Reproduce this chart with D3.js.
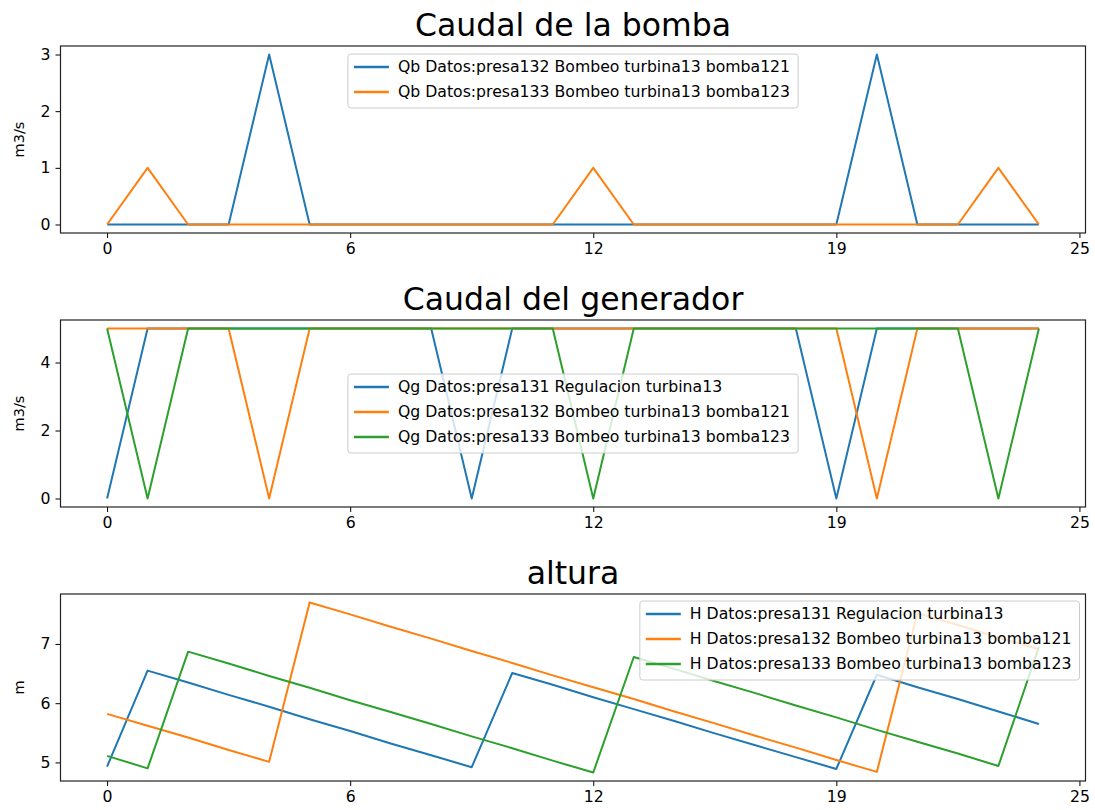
<!DOCTYPE html>
<html lang="en">

<head>
    <meta charset="utf-8">
    <title>Caudal y altura</title>
    <script src="https://d3js.org/d3.v7.min.js"></script>
    <style>
        body { margin: 0; background: #fff; }
        text { font-family: "DejaVu Sans", sans-serif; fill: #000; }
    </style>
</head>

<body>
    <script>
        // hour index of every sample
        const hours = [0, 1, 2, 3, 4, 5, 6, 7, 8, 9, 10, 11, 12, 13, 14, 15, 16, 17, 18, 19, 20, 21, 22, 23];
        // where the x ticks sit and what they say
        const xTickValues = [0, 6, 12, 18, 24];
        const xTickLabels = ["0", "6", "12", "19", "25"];

        // Caudal de la bomba
        const qbPresa132 = [0, 0, 0, 0, 3, 0, 0, 0, 0, 0, 0, 0, 0, 0, 0, 0, 0, 0, 0, 3, 0, 0, 0, 0];
        const qbPresa133 = [0, 1, 0, 0, 0, 0, 0, 0, 0, 0, 0, 0, 1, 0, 0, 0, 0, 0, 0, 0, 0, 0, 1, 0];

        // Caudal del generador
        const qgPresa131 = [0, 5, 5, 5, 5, 5, 5, 5, 5, 0, 5, 5, 5, 5, 5, 5, 5, 5, 0, 5, 5, 5, 5, 5];
        const qgPresa132 = [5, 5, 5, 5, 0, 5, 5, 5, 5, 5, 5, 5, 5, 5, 5, 5, 5, 5, 5, 0, 5, 5, 5, 5];
        const qgPresa133 = [5, 0, 5, 5, 5, 5, 5, 5, 5, 5, 5, 5, 0, 5, 5, 5, 5, 5, 5, 5, 5, 5, 0, 5];

        // altura
        const hPresa131 = [4.93, 6.55, 6.35, 6.14, 5.94, 5.73, 5.53, 5.32, 5.12, 4.92, 6.51, 6.31,
            6.10, 5.90, 5.70, 5.49, 5.29, 5.09, 4.89, 6.48, 6.27, 6.07, 5.86, 5.65];
        const hPresa132 = [5.82, 5.62, 5.42, 5.21, 5.01, 7.70, 7.50, 7.29, 7.09, 6.88, 6.68, 6.47,
            6.27, 6.07, 5.86, 5.66, 5.45, 5.25, 5.04, 4.84, 7.52, 7.32, 7.11, 6.91];
        const hPresa133 = [5.11, 4.90, 6.87, 6.67, 6.46, 6.26, 6.05, 5.85, 5.65, 5.44, 5.24, 5.03,
            4.83, 6.78, 6.58, 6.37, 6.17, 5.96, 5.76, 5.55, 5.35, 5.15, 4.94, 6.95];

        const colors = ["#1f77b4", "#ff7f0e", "#2ca02c"];

        const panels = [{
            title: "Caudal de la bomba",
            ylabel: "m3/s",
            yTicks: [0, 1, 2, 3],
            legendPos: "upper center",
            series: [
                { name: "Qb Datos:presa132 Bombeo turbina13 bomba121", values: qbPresa132, color: colors[0] },
                { name: "Qb Datos:presa133 Bombeo turbina13 bomba123", values: qbPresa133, color: colors[1] }
            ]
        }, {
            title: "Caudal del generador",
            ylabel: "m3/s",
            yTicks: [0, 2, 4],
            legendPos: "center",
            series: [
                { name: "Qg Datos:presa131 Regulacion turbina13", values: qgPresa131, color: colors[0] },
                { name: "Qg Datos:presa132 Bombeo turbina13 bomba121", values: qgPresa132, color: colors[1] },
                { name: "Qg Datos:presa133 Bombeo turbina13 bomba123", values: qgPresa133, color: colors[2] }
            ]
        }, {
            title: "altura",
            ylabel: "m",
            yTicks: [5, 6, 7],
            legendPos: "upper right",
            series: [
                { name: "H Datos:presa131 Regulacion turbina13", values: hPresa131, color: colors[0] },
                { name: "H Datos:presa132 Bombeo turbina13 bomba121", values: hPresa132, color: colors[1] },
                { name: "H Datos:presa133 Bombeo turbina13 bomba123", values: hPresa133, color: colors[2] }
            ]
        }];

        const width = 1095;
        const height = 810;
        const left = 60.5, right = 1085.5;
        const panelTops = [46, 320, 594];
        const panelHeight = 187;
        const fontSize = 15.7;

        const svg = d3.select("body")
            .append("svg")
            .attr("width", width)
            .attr("height", height);

        // matplotlib style 5% margins on x
        const xMin = d3.min(hours), xMax = d3.max(hours);
        const xPad = (xMax - xMin) * 0.05;
        const x = d3.scaleLinear()
            .domain([xMin - xPad, xMax + xPad])
            .range([left, right]);

        panels.forEach((p, i) => {
            const top = panelTops[i];
            const bottom = top + panelHeight;
            const g = svg.append("g");

            const all = p.series.flatMap(s => s.values);
            const lo = d3.min(all), hi = d3.max(all);
            const yPad = (hi - lo) * 0.05;
            const y = d3.scaleLinear()
                .domain([lo - yPad, hi + yPad])
                .range([bottom, top]);

            // lines
            const line = d3.line()
                .x((d, j) => x(hours[j]))
                .y(d => y(d));

            p.series.forEach(s => {
                g.append("path")
                    .datum(s.values)
                    .attr("d", line)
                    .attr("fill", "none")
                    .attr("stroke", s.color)
                    .attr("stroke-width", 2)
                    .attr("stroke-linejoin", "round");
            });

            // axes
            const xAxis = d3.axisBottom(x)
                .tickValues(xTickValues)
                .tickFormat((d, j) => xTickLabels[j])
                .tickSize(5)
                .tickPadding(5);
            const gx = g.append("g")
                .attr("transform", "translate(0," + bottom + ")")
                .call(xAxis);

            const yAxis = d3.axisLeft(y)
                .tickValues(p.yTicks)
                .tickFormat(d3.format("d"))
                .tickSize(5)
                .tickPadding(5);
            const gy = g.append("g")
                .attr("transform", "translate(" + left + ",0)")
                .call(yAxis);

            [gx, gy].forEach(a => {
                a.select(".domain").remove();
                a.selectAll("line").attr("stroke", "#000").attr("stroke-width", 1);
                a.selectAll("text").attr("font-size", fontSize).attr("font-family", "DejaVu Sans").attr("fill", "#222");
            });

            // frame
            g.append("rect")
                .attr("x", left)
                .attr("y", top)
                .attr("width", right - left)
                .attr("height", bottom - top)
                .attr("fill", "none")
                .attr("stroke", "#222")
                .attr("stroke-width", 1.2);

            // title and y label
            g.append("text")
                .attr("x", (left + right) / 2)
                .attr("y", top - 10)
                .attr("text-anchor", "middle")
                .attr("font-size", 31.5)
                .attr("fill", "#111")
                .text(p.title);

            g.append("text")
                .attr("transform", "translate(24," + (top + bottom) / 2 + ") rotate(-90)")
                .attr("text-anchor", "middle")
                .attr("font-size", 14.5)
                .attr("fill", "#222")
                .text(p.ylabel);

            // legend
            const rowH = 25;
            const leg = g.append("g");
            const box = leg.append("rect")
                .attr("fill", "#fff")
                .attr("fill-opacity", 0.8)
                .attr("stroke", "#ccc")
                .attr("stroke-width", 1)
                .attr("rx", 3);
            let maxW = 0;
            p.series.forEach((s, j) => {
                const cy = 13 + j * rowH;
                leg.append("line")
                    .attr("x1", 6).attr("x2", 41)
                    .attr("y1", cy).attr("y2", cy)
                    .attr("stroke", s.color)
                    .attr("stroke-width", 2.5);
                const t = leg.append("text")
                    .attr("x", 50)
                    .attr("y", cy)
                    .attr("dy", "0.35em")
                    .attr("font-size", fontSize)
                    .attr("fill", "#222")
                    .text(s.name);
                maxW = Math.max(maxW, t.node().getComputedTextLength());
            });
            const boxW = 50 + maxW + 8;
            const boxH = 13 + (p.series.length - 1) * rowH + 16;
            box.attr("width", boxW).attr("height", boxH);

            let lx, ly;
            if (p.legendPos === "upper center") {
                lx = (left + right) / 2 - boxW / 2;
                ly = top + 8;
            } else if (p.legendPos === "center") {
                lx = (left + right) / 2 - boxW / 2;
                ly = (top + bottom) / 2 - boxH / 2;
            } else {
                lx = right - 6 - boxW;
                ly = top + 7;
            }
            leg.attr("transform", "translate(" + lx + "," + ly + ")");
        });
    </script>
</body>

</html>
